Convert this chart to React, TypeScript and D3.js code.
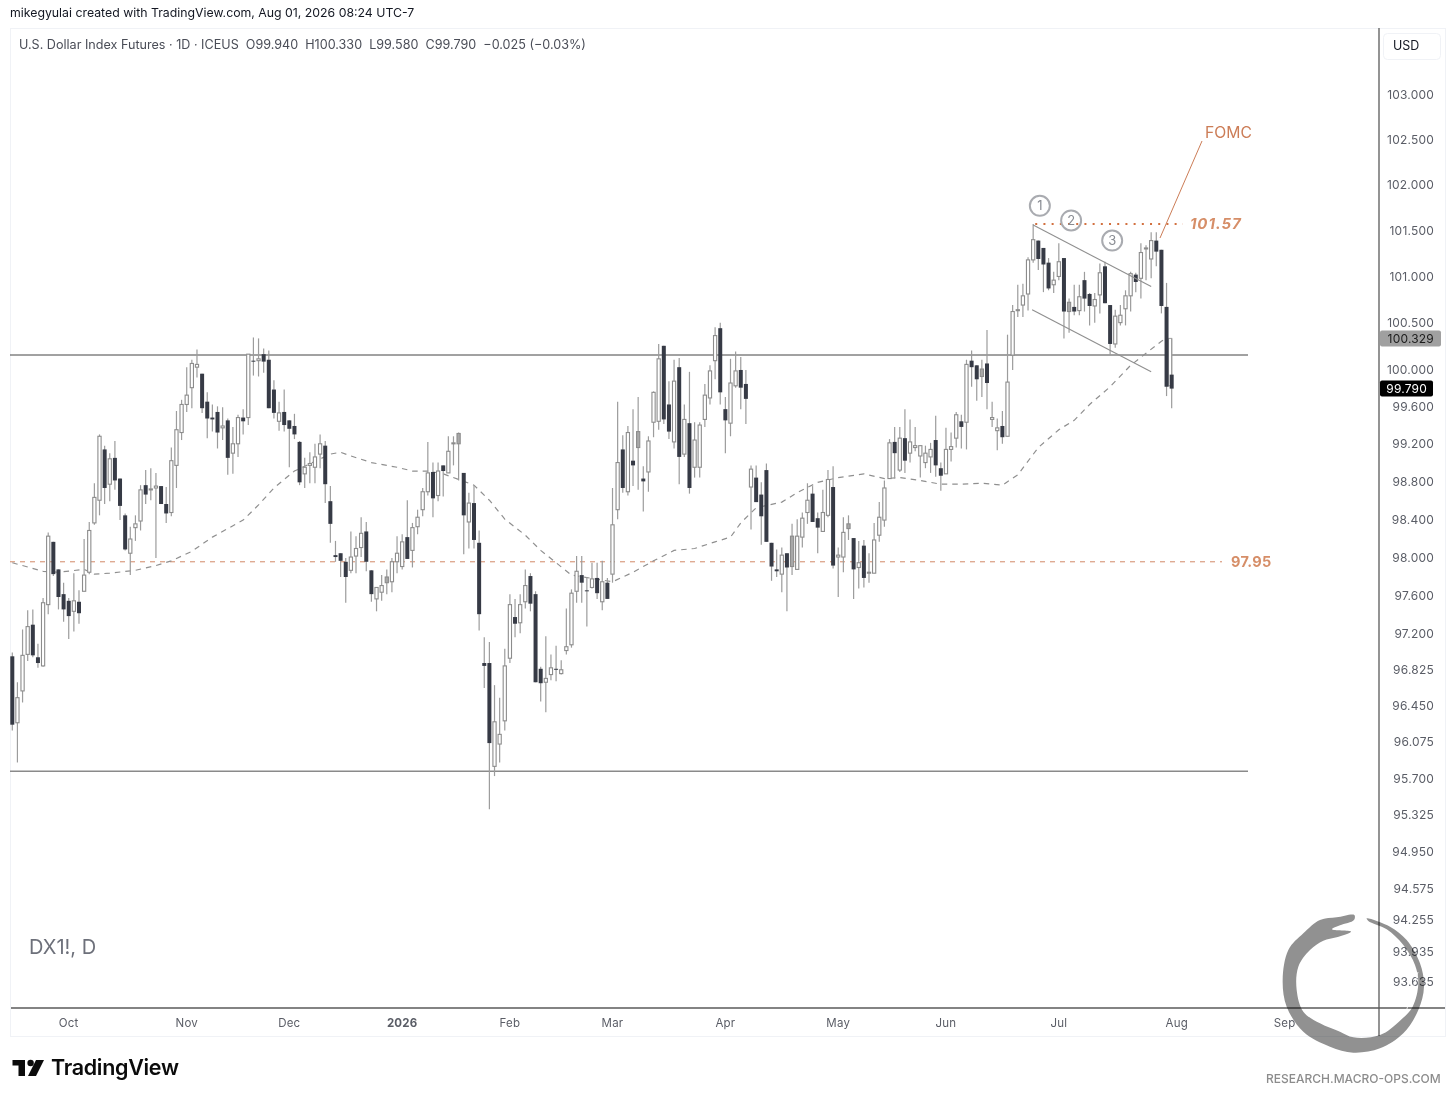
import React from 'react';
import * as d3 from 'd3';

// daily candles
const opens = [
  96.96,96.27,96.60,96.98,97.29,96.95,96.86,97.50,98.16,97.87,
  97.61,97.54,97.43,97.53,97.64,97.84,98.36,98.60,99.14,98.77,
  99.05,98.83,98.44,98.04,98.31,98.38,98.76,98.71,98.73,98.75,
  98.56,98.47,98.97,99.32,99.62,99.80,100.02,99.95,99.65,99.48,
  99.54,99.37,99.45,99.10,99.20,99.48,99.48,100.09,100.09,100.16,
  100.10,99.78,99.44,99.54,99.45,99.39,99.22,98.88,98.97,98.95,
  99.09,99.18,98.59,98.02,98.04,97.95,97.86,98.01,98.10,98.27,
  97.86,97.56,97.63,97.73,97.74,97.95,97.90,98.21,98.07,98.32,
  98.50,98.69,98.90,98.65,98.97,98.89,99.20,99.20,98.89,98.37,
  98.57,98.15,96.89,96.89,95.82,96.05,96.29,96.94,97.37,97.31,
  97.53,97.80,97.61,96.83,96.69,96.77,96.83,96.78,97.02,97.08,
  97.64,97.81,97.65,97.68,97.78,97.53,97.73,97.82,98.50,99.14,
  98.69,99.02,99.16,98.83,98.90,99.43,99.44,100.25,99.62,99.22,
  100.02,99.09,99.42,98.95,98.95,99.46,99.69,100.09,100.44,99.57,
  99.42,99.82,99.99,99.84,98.74,98.84,98.66,98.92,98.15,97.87,
  97.82,98.04,97.90,97.87,98.21,98.47,98.67,98.41,98.27,98.44,
  98.74,98.00,98.00,98.30,98.20,97.89,98.12,97.83,97.83,98.23,
  98.39,98.83,99.22,98.92,99.26,99.10,99.16,99.07,99.00,99.06,
  99.24,98.94,98.88,99.14,99.26,99.44,99.43,100.09,100.04,99.92,
  100.06,99.46,99.34,99.39,99.28,100.15,100.63,100.69,100.81,101.18,
  101.39,101.31,101.15,100.91,101.00,101.20,100.62,100.67,100.63,100.96,
  100.81,100.68,100.80,101.11,100.69,100.27,100.50,100.65,100.79,101.02,
  100.98,101.30,101.19,101.39,101.29,100.67,99.94,
];
const highs = [
  97.00,96.69,97.24,97.44,97.45,97.09,97.57,98.26,98.16,97.87,
  97.73,97.57,97.83,97.65,98.19,98.37,98.78,99.30,99.18,99.10,
  99.23,98.83,98.46,98.32,98.44,98.76,98.92,98.94,98.89,98.75,
  98.74,99.16,99.55,99.67,100.02,100.10,100.21,99.95,99.75,99.62,
  99.60,99.59,99.47,99.38,99.51,99.57,100.16,100.34,100.33,100.22,
  100.20,99.88,99.65,99.78,99.45,99.52,99.23,99.05,99.11,99.20,
  99.30,99.23,98.75,98.17,98.04,97.99,98.27,98.22,98.42,98.37,
  97.86,97.68,97.81,97.87,97.99,98.22,98.24,98.60,98.36,98.50,
  98.73,99.22,99.00,99.00,98.97,99.28,99.28,99.32,98.89,98.68,
  98.76,98.28,97.16,97.11,96.66,96.53,97.04,97.61,97.56,97.61,
  97.87,97.83,97.64,96.85,97.17,96.98,97.07,96.92,97.46,97.66,
  98.01,98.01,97.79,97.94,97.94,97.96,97.78,98.73,99.65,99.29,
  99.39,99.57,99.70,98.96,99.28,99.76,100.27,100.25,99.87,100.10,
  100.12,99.62,99.97,99.43,99.43,99.84,100.04,100.45,100.50,99.70,
  100.11,100.19,100.13,99.99,98.97,98.97,98.79,98.99,98.15,98.08,
  98.10,98.04,98.35,98.40,98.47,98.78,98.75,98.47,98.71,98.92,
  98.96,98.10,98.42,98.44,98.20,98.17,98.18,98.04,98.36,98.58,
  98.81,99.25,99.38,99.38,99.57,99.46,99.38,99.18,99.18,99.21,
  99.50,99.00,99.37,99.32,99.54,99.51,100.10,100.20,100.04,100.10,
  100.42,99.65,99.47,99.55,100.37,100.69,100.91,100.92,101.21,101.57,
  101.39,101.31,101.20,101.05,101.36,101.20,100.76,100.91,100.91,101.05,
  100.82,100.82,101.14,101.16,100.69,100.64,100.69,100.85,101.05,101.04,
  101.36,101.34,101.48,101.48,101.29,100.93,100.33,
];
const lows = [
  96.19,95.86,96.48,96.91,96.95,96.84,96.85,97.40,97.80,97.45,
  97.32,97.14,97.22,97.30,97.64,97.82,98.34,98.44,98.56,98.59,
  98.71,98.39,98.07,97.81,98.17,98.28,98.56,98.60,97.99,98.56,
  98.36,98.43,98.73,99.24,99.54,99.58,99.91,99.53,99.26,99.33,
  99.15,99.24,98.87,98.88,99.06,99.30,99.40,99.93,99.92,99.96,
  99.58,99.47,99.34,99.33,98.95,99.25,98.76,98.73,98.78,98.78,
  98.94,98.57,98.15,97.95,97.79,97.52,97.83,97.83,98.00,97.85,
  97.53,97.43,97.54,97.61,97.63,97.83,97.87,97.98,97.89,98.24,
  98.43,98.65,98.42,98.59,98.64,98.89,98.97,98.81,98.03,98.09,
  98.09,97.23,96.63,95.38,95.72,95.86,96.19,96.89,97.16,97.20,
  97.46,97.43,96.69,96.49,96.38,96.71,96.70,96.77,96.98,97.05,
  97.52,97.52,97.27,97.67,97.56,97.44,97.56,97.73,98.40,98.68,
  98.65,98.75,98.71,98.48,98.69,99.27,99.35,99.41,99.25,99.15,
  98.77,99.06,98.67,98.84,98.84,99.38,99.62,99.89,99.62,99.10,
  99.28,99.80,99.57,99.41,98.29,98.58,98.13,98.16,97.75,97.79,
  97.63,97.43,97.81,97.87,98.10,98.35,98.37,98.04,98.27,98.42,
  97.88,97.58,97.84,98.18,97.56,97.67,97.68,97.73,97.83,98.16,
  98.32,98.83,98.83,98.90,98.89,99.00,99.12,98.84,98.94,98.89,
  98.85,98.70,98.88,99.01,99.16,99.15,99.14,99.81,99.66,99.70,
  99.57,99.38,99.13,99.20,99.28,99.99,100.56,100.56,100.63,101.15,
  101.07,100.83,100.85,100.82,100.96,100.33,100.39,100.58,100.58,100.62,
  100.47,100.50,100.60,100.71,100.15,100.23,100.47,100.47,100.62,100.83,
  100.76,100.96,100.98,101.11,100.60,99.71,99.58,
];
const closes = [
  96.25,96.53,96.97,97.27,96.97,96.89,97.52,98.22,97.82,97.58,
  97.45,97.38,97.54,97.41,97.81,98.28,98.63,99.28,98.73,99.04,
  98.81,98.54,98.08,98.19,98.35,98.71,98.66,98.72,98.75,98.56,
  98.46,99.02,99.35,99.62,99.72,100.06,100.05,99.58,99.47,99.46,
  99.32,99.39,99.05,99.20,99.48,99.44,100.16,100.08,100.11,100.08,
  99.58,99.53,99.53,99.40,99.36,99.30,98.79,98.95,98.99,99.06,
  99.20,98.77,98.35,98.00,97.96,97.79,98.00,98.09,98.25,97.95,
  97.61,97.68,97.70,97.79,97.95,98.04,98.16,97.98,98.31,98.42,
  98.69,98.89,98.62,98.91,98.91,99.12,99.21,99.31,98.44,98.57,
  98.18,97.40,96.86,96.06,96.28,96.15,96.86,97.50,97.30,97.50,
  97.70,97.51,96.69,96.68,96.73,96.84,96.82,96.82,97.06,97.62,
  97.85,97.73,97.64,97.77,97.62,97.74,97.56,98.34,99.00,98.73,
  99.32,98.97,99.33,98.80,99.23,99.75,100.11,99.46,99.33,99.87,
  99.06,99.46,98.73,99.24,99.40,99.72,99.98,100.36,99.75,99.45,
  99.85,99.98,99.80,99.68,98.93,98.58,98.43,98.16,97.90,97.85,
  98.02,97.89,98.22,98.22,98.41,98.60,98.37,98.31,98.47,98.82,
  97.91,98.02,98.26,98.35,97.87,97.94,97.78,97.84,98.18,98.42,
  98.73,99.21,99.10,99.26,99.02,99.22,99.18,99.18,99.10,99.14,
  98.97,98.86,99.14,99.17,99.51,99.38,100.05,100.02,99.89,100.00,
  99.85,99.48,99.37,99.27,99.86,100.62,100.64,100.79,101.18,101.40,
  101.19,101.13,100.87,100.96,101.16,100.62,100.72,100.62,100.78,100.76,
  100.68,100.75,101.04,100.71,100.27,100.57,100.58,100.79,101.03,100.94,
  101.26,101.31,101.39,101.27,100.68,99.81,99.79,
];
// candles that show up washed out grey in the screenshot
const mutedBars = [73, 87, 122, 152, 163, 189, 206];
const ghostBar = { index: 225.7, top: 100.33, bottom: 99.82 };

// dashed moving average, sampled by bar index
const maIndex = [0,6,9,14,16,19,24,28,31,35,39,44,45,48,51,55,62,64,66,70,75,78,81,84,87,90,93,96,100,103,106,109,117,121,125,129,133,137,140,142,145,150,153,157,161,166,170,173,177,181,185,189,193,196,200,204,207,210,214,218,221,224,225];
const maValues = [97.94,97.85,97.84,97.87,97.82,97.83,97.86,97.91,97.96,98.06,98.21,98.36,98.39,98.55,98.73,98.91,99.09,99.11,99.07,99.00,98.95,98.91,98.91,98.88,98.82,98.76,98.60,98.40,98.23,98.07,97.94,97.81,97.74,97.84,97.96,98.07,98.09,98.16,98.21,98.36,98.52,98.58,98.68,98.79,98.84,98.88,98.83,98.84,98.81,98.77,98.77,98.78,98.76,98.87,99.16,99.35,99.45,99.62,99.81,100.04,100.17,100.30,100.33];

const priceTicks = [103,102.5,102,101.5,101,100.5,100,99.6,99.2,98.8,98.4,98,97.6,97.2,96.825,96.45,96.075,95.7,95.325,94.95,94.575,94.255,93.935,93.635];
const monthLabels = ['Oct','Nov','Dec','2026','Feb','Mar','Apr','May','Jun','Jul','Aug','Sep'];
const monthIndex = [11,34,54,76,97,117,139,161,182,204,227,248];

const resistance = 100.15;
const support = 95.77;
const midLevel = 97.95;
const highLevel = 101.57;
const channelTop = [[199, 101.56], [222, 100.89]];
const channelBottom = [[198.8, 100.64], [222, 99.97]];
const waveMarks = [
  { label: '1', index: 200.3, price: 101.77 },
  { label: '2', index: 206.4, price: 101.61 },
  { label: '3', index: 214.4, price: 101.39 },
];

const barCount = opens.length;
const x = d3.scaleLinear().domain([0, barCount - 1]).range([12.3, 12.3 + 5.13 * (barCount - 1)]);
const y = d3.scaleLog().domain([93.635, 103]).range([981, 94]);
const snap = (v: number) => Math.round(v) + 0.5;

const dark = '#363a45';
const wick = '#9c9c9c';
const orange = '#cc7d57';
const axisText = '#5a5d66';
const font = 'Inter, "Liberation Sans", sans-serif';

const maLine = d3.line<number>().x((_, i) => x(maIndex[i])).y(d => y(d));

// ouroboros watermark, traced roughly by hand (picture pixels)
const snake = ([
  [343,45],[290,52],[240,60],[190,100],[145,150],[128,240],[140,320],[190,395],[270,440],[340,458],
  [420,445],[490,400],[535,330],[552,260],[540,190],[500,120],[450,80],[380,55],[385,63],[440,88],
  [490,135],[525,195],[535,250],[518,320],[480,362],[420,405],[340,412],[300,395],[240,370],[190,335],
  [170,270],[175,200],[210,150],[250,122],[290,112],[333,95],[276,88],[300,76],[342,60],
] as [number, number][]).map(([a, b]) => [1240 + a / 3, 900 + b / 3] as [number, number]);
const snakePath = d3.line().curve(d3.curveCatmullRomClosed.alpha(0.5))(snake) ?? '';

function Candles() {
  return (
    <g>
      {opens.map((o, i) => {
        const cx = x(i);
        const down = closes[i] < o;
        const muted = mutedBars.includes(i);
        const top = y(Math.max(o, closes[i]));
        const bottom = y(Math.min(o, closes[i]));
        const h = Math.max(bottom - top, 1);
        return (
          <g key={i}>
            <line x1={cx} x2={cx} y1={y(highs[i])} y2={y(lows[i])} stroke={wick} strokeWidth={1.2} />
            {down
              ? <rect x={cx - 2} y={top} width={4} height={h} fill={dark} />
              : <rect x={cx - 1.6} y={top} width={3.2} height={h} fill={muted ? '#a8a8a8' : '#fff'} stroke="#8c8c8c" strokeWidth={1.1} />}
          </g>
        );
      })}
    </g>
  );
}

export default function App() {
  return (
    <svg width={1456} height={1100} style={{ position: 'absolute', left: 0, top: 0, background: '#fff', fontFamily: font }}>
      <text x={10} y={17} fontSize={12.3} fill="#131722">mikegyulai created with TradingView.com, Aug 01, 2026 08:24 UTC-7</text>
      <rect x={10.5} y={28.5} width={1435} height={1008} fill="none" stroke="#f0f2f6" />
      <text x={19} y={49} fontSize={12.6} fill="#4a4d57" xmlSpace="preserve">U.S. Dollar Index Futures · 1D · ICEUS  O99.940  H100.330  L99.580  C99.790  −0.025 (−0.03%)</text>

      <line x1={10} x2={1248} y1={snap(y(resistance)) - 0.5} y2={snap(y(resistance)) - 0.5} stroke="#444" strokeWidth={1} />
      <line x1={10} x2={1248} y1={y(support)} y2={y(support)} stroke="#8a8a8a" strokeWidth={1.6} />
      <line x1={10} x2={1222} y1={y(midLevel)} y2={y(midLevel)} stroke={orange} strokeWidth={1} strokeDasharray="5 5" opacity={0.9} />
      <text x={1231} y={y(midLevel) + 5.2} fontSize={14.5} fontWeight={700} fill="#d68e68" letterSpacing={0.3}>97.95</text>

      <path d={maLine(maValues) ?? ''} fill="none" stroke="#8f8f8f" strokeWidth={1.2} strokeDasharray="5.5 5" />

      <rect x={x(ghostBar.index) - 1.6} y={y(ghostBar.top)} width={3.2} height={y(ghostBar.bottom) - y(ghostBar.top)} fill="#fff" stroke="#a2a2a2" />
      <Candles />

      {[channelTop, channelBottom].map((c, i) => (
        <line key={i} x1={x(c[0][0])} y1={y(c[0][1])} x2={x(c[1][0])} y2={y(c[1][1])} stroke="#8f8f8f" strokeWidth={1.1} />
      ))}
      <line x1={x(199.4)} x2={x(228.2)} y1={y(highLevel)} y2={y(highLevel)} stroke="#d2703f" strokeWidth={2} strokeDasharray="2 6.2" />
      <text x={1190} y={y(highLevel) + 5.4} fontSize={15} fontWeight={700} fontStyle="italic" fill="#d68e68" letterSpacing={0.9}>101.57</text>
      <line x1={1160} y1={238} x2={1202} y2={141} stroke={orange} strokeWidth={1} />
      <text x={1205} y={137.5} fontSize={15.7} fill={orange}>FOMC</text>

      {waveMarks.map(m => (
        <g key={m.label}>
          <circle cx={x(m.index)} cy={y(m.price)} r={10} fill="none" stroke="#a9abb0" strokeWidth={2} />
          <text x={x(m.index)} y={y(m.price) + 4.5} textAnchor="middle" fontSize={13} fill="#888b92">{m.label}</text>
        </g>
      ))}

      <text x={29} y={954} fontSize={20} fill="#6d707a">DX1!, D</text>

      <line x1={1379} x2={1379} y1={28} y2={1036} stroke="#5a5a5a" strokeWidth={1.3} />
      <line x1={11} x2={1445} y1={1008} y2={1008} stroke="#5a5a5a" strokeWidth={1.3} />
      <rect x={1383.5} y={33.5} width={57} height={26} rx={4} fill="#fff" stroke="#f0f2f6" />
      <text x={1393} y={50} fontSize={12.5} fill="#131722">USD</text>

      {priceTicks.map(t => (
        <text key={t} x={1434} y={y(t) + 4.6} textAnchor="end" fontSize={12} fill={axisText} letterSpacing={0.2}>{d3.format('.3f')(t)}</text>
      ))}
      <rect x={1380} y={y(100.329) - 8} width={61} height={16} rx={2} fill="#a0a0a0" />
      <text x={1434} y={y(100.329) + 4.6} textAnchor="end" fontSize={12} fill="#1c1c1c" letterSpacing={0.2}>100.329</text>
      <rect x={1380} y={y(99.79) - 8} width={53} height={16} rx={2} fill="#000" />
      <text x={1427} y={y(99.79) + 4.6} textAnchor="end" fontSize={12} fill="#fff" letterSpacing={0.2}>99.790</text>

      {monthLabels.map((m, i) => (
        <text key={m} x={x(monthIndex[i])} y={1026.5} textAnchor="middle" fontSize={11.5} fontWeight={m === '2026' ? 700 : 400} fill={axisText} letterSpacing={0.2}>{m}</text>
      ))}

      <path d={snakePath} fill="#919191" style={{ mixBlendMode: 'multiply' }} />
      <path d="M1380 1034 L1406 1012 L1418 972" fill="none" stroke="#fff" strokeWidth={0.8} />

      <path d="M12.5 1060 H25 V1076 H18.5 V1065.5 H12.5 Z" fill="#0b0b0b" />
      <circle cx={30.6} cy={1063} r={3.2} fill="#0b0b0b" />
      <path d="M36 1060 H44 L36 1076 H28 Z" fill="#0b0b0b" />
      <text x={51} y={1075} fontSize={21.5} fontWeight={600} fill="#0b0b0b" letterSpacing={-0.3}>TradingView</text>

      <text x={1266} y={1083} fontSize={12} fontWeight={500} fill="#8c8c8c">RESEARCH.MACRO-OPS.COM</text>
    </svg>
  );
}
